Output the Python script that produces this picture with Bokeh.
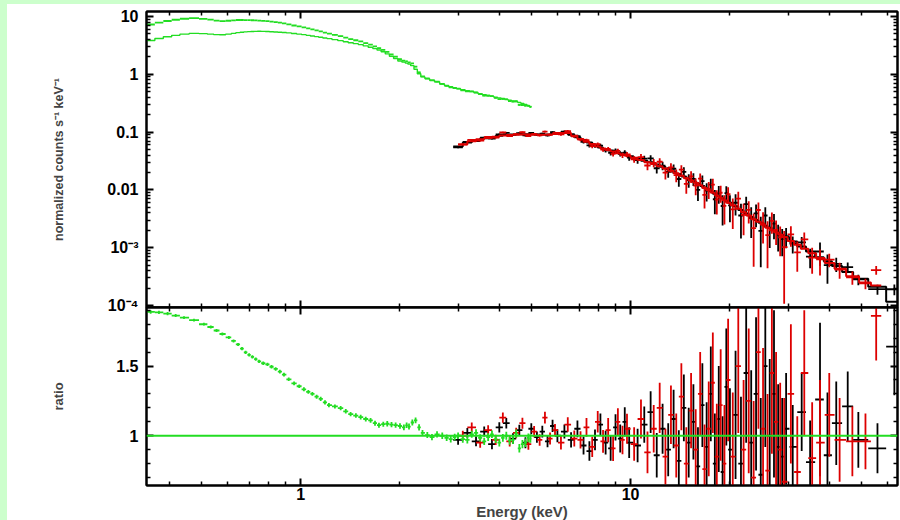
import numpy as np
from bokeh.plotting import figure
from bokeh.layouts import column, row
from bokeh.models import (Range1d, LinearAxis, FixedTicker,
                          CustomJSTickFormatter, Span, Spacer)
from bokeh.embed import file_html
from bokeh.resources import INLINE

# ---------------- ticks ----------------
x_major_ticks = [1, 10]
x_minor_ticks = [0.4, 0.5, 0.6, 0.7, 0.8, 0.9, 2, 3, 4, 5, 6, 7, 8, 9, 20, 30, 40, 50, 60]
top_major_ticks = [1e-4, 1e-3, 1e-2, 1e-1, 1, 10]
top_minor_ticks = [m * 10.0 ** d for d in range(-4, 2) for m in range(2, 10)]
ratio_major_ticks = [1.0, 1.5]
ratio_minor_ticks = [0.7, 0.8, 0.9, 1.1, 1.2, 1.3, 1.4, 1.6, 1.7, 1.8, 1.9]

# ---------------- soft (green) data ----------------
green_energy = [0.351, 0.372, 0.395, 0.418, 0.443, 0.475, 0.509, 0.534, 0.556, 0.579,
                0.606, 0.626, 0.646, 0.664, 0.681, 0.698, 0.714, 0.731, 0.748, 0.770,
                0.793, 0.816, 0.840, 0.865, 0.890, 0.920, 0.955, 0.990, 1.023, 1.055,
                1.085, 1.118, 1.150, 1.185, 1.218, 1.270, 1.322, 1.370, 1.417, 1.470,
                1.520, 1.575, 1.629, 1.680, 1.727, 1.780, 1.830, 1.885, 1.940, 2.000,
                2.055, 2.095, 2.130, 2.180, 2.230, 2.285, 2.340, 2.420, 2.500, 2.590,
                2.686, 2.770, 2.850, 2.930, 3.0, 3.1, 3.2, 3.3, 3.4, 3.5,
                3.6, 3.7, 3.8, 3.9, 4.0, 4.1, 4.2, 4.3, 4.4, 4.5,
                4.6, 4.7, 4.8, 4.9, 4.97]
green_model = [3.85, 4.15, 4.45, 4.72, 4.95, 5.1, 5.05, 4.95, 4.85, 4.82,
               4.95, 5.1, 5.25, 5.35, 5.42, 5.47, 5.5, 5.53, 5.55, 5.53,
               5.5, 5.45, 5.4, 5.35, 5.28, 5.2, 5.08, 4.96, 4.85, 4.72,
               4.6, 4.48, 4.36, 4.25, 4.14, 3.98, 3.82, 3.66, 3.52, 3.39,
               3.26, 3.1, 2.93, 2.78, 2.63, 2.45, 2.25, 2.05, 1.88, 1.70,
               1.62, 1.56, 1.5, 1.41, 1.22, 1.02, 0.9, 0.84, 0.79, 0.74,
               0.68, 0.64, 0.61, 0.585, 0.565, 0.54, 0.52, 0.50, 0.478, 0.46,
               0.445, 0.43, 0.415, 0.402, 0.39, 0.38, 0.368, 0.357, 0.347, 0.336,
               0.325, 0.313, 0.301, 0.289, 0.278]
green_ratio = [1.888, 1.885, 1.876, 1.862, 1.848, 1.83, 1.80, 1.78, 1.755, 1.73,
               1.705, 1.68, 1.655, 1.625, 1.598, 1.58, 1.566, 1.55, 1.533, 1.52,
               1.512, 1.495, 1.479, 1.46, 1.438, 1.405, 1.376, 1.355, 1.333, 1.315,
               1.30, 1.28, 1.264, 1.24, 1.219, 1.21, 1.198, 1.175, 1.155, 1.145,
               1.134, 1.12, 1.11, 1.09, 1.076, 1.083, 1.086, 1.08, 1.076, 1.07,
               1.06, 1.075, 1.066, 1.095, 1.11, 1.06, 1.02, 1.005, 0.99, 1.01,
               1.0, 0.985, 0.976, 0.99, 1.0, 0.975, 0.97, 1.01, 1.02, 0.985,
               0.96, 0.99, 1.01, 0.975, 0.95, 0.985, 1.0, 0.965, 0.97, 1.015,
               0.91, 0.94, 0.95, 0.985, 0.98]
green_err = [0.012, 0.011, 0.011, 0.011, 0.010, 0.010, 0.010, 0.011, 0.011, 0.011,
             0.011, 0.011, 0.011, 0.012, 0.012, 0.012, 0.012, 0.012, 0.012, 0.012,
             0.012, 0.012, 0.013, 0.013, 0.013, 0.013, 0.013, 0.013, 0.014, 0.014,
             0.014, 0.014, 0.015, 0.015, 0.015, 0.015, 0.016, 0.016, 0.016, 0.016,
             0.017, 0.017, 0.017, 0.018, 0.018, 0.018, 0.019, 0.019, 0.019, 0.020,
             0.020, 0.020, 0.021, 0.021, 0.021, 0.022, 0.022, 0.022, 0.022, 0.023,
             0.023, 0.023, 0.024, 0.024, 0.024, 0.025, 0.025, 0.025, 0.026, 0.026,
             0.026, 0.027, 0.027, 0.027, 0.028, 0.028, 0.028, 0.029, 0.029, 0.029,
             0.030, 0.030, 0.030, 0.031, 0.031]

# ---------------- hard (black) data ----------------
black_energy = [3.0, 3.2, 3.4, 3.6, 3.8, 4.0, 4.2, 4.4, 4.6, 4.8, 5.0, 5.2, 5.4, 5.6, 5.8,
                6.0, 6.3, 6.6, 6.9, 7.2, 7.5, 7.8, 8.1, 8.4, 8.7, 9.0, 9.3, 9.6, 9.9,
                10.5, 11.0, 11.5, 12.0, 12.5, 13.0, 13.5, 14.0, 14.5, 15.0, 15.5, 16.0,
                16.5, 17.0, 17.5, 18.0, 18.5, 19.0, 19.5, 20.0,
                20.8, 21.6, 22.4, 23.2, 24.0, 24.8, 25.6, 26.4, 27.2, 28.0, 28.8, 29.6,
                31.0, 33.0, 35.0, 37.5, 39.5, 42.0, 45.5, 49.0, 56.0, 63.0]
black_model = [0.056, 0.066, 0.073, 0.078, 0.082, 0.086, 0.089, 0.091, 0.092, 0.092,
               0.092, 0.091, 0.091, 0.091, 0.093,
               0.095, 0.099, 0.092, 0.081, 0.073, 0.066, 0.060, 0.054, 0.051, 0.048,
               0.045, 0.043, 0.040, 0.038,
               0.035, 0.032, 0.030, 0.0275, 0.025, 0.0228, 0.0207, 0.0188, 0.017, 0.0155,
               0.0141, 0.0128, 0.0116, 0.0105, 0.0095, 0.0086, 0.0078, 0.0071, 0.0065, 0.0060,
               0.0052, 0.0045, 0.0039, 0.0034, 0.0030, 0.0027, 0.0024, 0.0022, 0.0020,
               0.00182, 0.00165, 0.0015,
               0.00128, 0.00105, 0.00086, 0.00068, 0.00058, 0.00048, 0.00038, 0.00029,
               0.00021, 0.000116]
black_ratio = [0.97, 1.02, 0.96, 1.03, 0.94, 1.06, 1.09, 0.98, 1.04, 0.95, 1.05, 0.99, 1.03, 0.96, 1.07,
               1.00, 1.03, 0.97, 1.05, 0.93, 0.89, 0.97, 1.08, 0.95, 0.91, 1.06, 0.98, 1.10, 0.95,
               0.93, 1.08, 1.17, 0.86, 1.05, 0.90, 1.12, 0.82, 1.20, 0.95, 1.10, 0.78,
               1.22, 0.92, 1.30, 0.80, 1.12, 0.74, 1.35, 0.90,
               1.15, 0.80, 1.45, 0.95, 1.30, 0.72, 1.50, 1.00, 1.30, 0.92, 0.85, 1.05,
               0.92, 1.17, 0.81, 1.26, 0.86, 1.09, 1.21, 0.97, 0.91, 1.64]
black_err = [0.035, 0.035, 0.036, 0.036, 0.037, 0.037, 0.038, 0.038, 0.039, 0.040,
             0.040, 0.041, 0.042, 0.043, 0.044,
             0.046, 0.050, 0.055, 0.060, 0.065, 0.070, 0.075, 0.080, 0.085, 0.090,
             0.095, 0.100, 0.105, 0.110,
             0.12, 0.13, 0.15, 0.16, 0.18, 0.19, 0.21, 0.22, 0.24, 0.25, 0.27, 0.28,
             0.30, 0.32, 0.34, 0.36, 0.38, 0.40, 0.42, 0.44,
             0.46, 0.48, 0.50, 0.52, 0.55, 0.55, 0.58, 0.55, 0.60, 0.45, 0.42, 0.40,
             0.30, 0.28, 0.30, 0.55, 0.45, 0.30, 0.25, 0.20, 0.18, 0.35]

# ---------------- hard (red) data ----------------
red_energy = [3.1, 3.3, 3.5, 3.7, 3.9, 4.1, 4.3, 4.5, 4.7, 4.9, 5.1, 5.3, 5.5, 5.7, 5.9,
              6.15, 6.45, 6.75, 7.05, 7.35, 7.65, 7.95, 8.25, 8.55, 8.85, 9.15, 9.45, 9.75,
              10.25, 10.75, 11.25, 11.75, 12.25, 12.75, 13.25, 13.75, 14.25, 14.75,
              15.25, 15.75, 16.25, 16.75, 17.25, 17.75, 18.25, 18.75, 19.25, 19.75,
              20.4, 21.2, 22.0, 22.8, 23.6, 24.4, 25.2, 26.0, 26.8, 27.6, 28.4, 29.2,
              30.6, 32.0, 33.6, 35.5, 37.5, 40.0, 43.0, 47.0, 51.5, 55.5]
red_model = [0.061, 0.069, 0.075, 0.079, 0.083, 0.087, 0.089, 0.090, 0.091, 0.091,
             0.090, 0.090, 0.090, 0.091, 0.093,
             0.096, 0.096, 0.086, 0.076, 0.068, 0.062, 0.056, 0.052, 0.049, 0.046,
             0.043, 0.041, 0.039,
             0.036, 0.033, 0.030, 0.028, 0.0255, 0.0233, 0.0213, 0.0193, 0.0175, 0.0159,
             0.0145, 0.0132, 0.0120, 0.0108, 0.0098, 0.0089, 0.0080, 0.0073, 0.0066, 0.0060,
             0.0054, 0.0047, 0.0041, 0.0036, 0.0031, 0.0028, 0.0025, 0.0022, 0.0020,
             0.00185, 0.00168, 0.00152,
             0.00130, 0.00112, 0.00096, 0.00080, 0.00066, 0.00054, 0.00043, 0.00032,
             0.00025, 0.00022]
red_ratio = [1.00, 1.06, 0.95, 1.04, 0.97, 1.13, 0.96, 1.02, 1.09, 0.94, 1.03, 0.97, 1.13, 0.98, 1.04,
             0.95, 1.08, 0.98, 0.97, 1.06, 0.92, 1.10, 0.96, 1.04, 0.91, 1.10, 0.97, 1.05,
             0.94, 1.12, 0.88, 1.05, 1.20, 0.85, 1.15, 0.93, 1.28, 0.80,
             1.18, 0.90, 1.30, 0.76, 1.05, 1.38, 0.85, 1.22, 0.80, 1.40,
             0.85, 1.50, 0.90, 1.25, 0.70, 1.60, 1.05, 0.75, 1.45, 1.10, 0.90, 0.67,
             1.30, 0.74, 1.45, 0.84, 0.95, 1.15, 0.97, 0.96, 0.96, 1.86]
red_err = [0.035, 0.035, 0.036, 0.036, 0.037, 0.037, 0.038, 0.038, 0.039, 0.040,
           0.040, 0.041, 0.042, 0.043, 0.044,
           0.048, 0.052, 0.057, 0.062, 0.067, 0.072, 0.077, 0.082, 0.087, 0.092,
           0.097, 0.102, 0.108,
           0.12, 0.14, 0.15, 0.17, 0.18, 0.20, 0.21, 0.23, 0.24, 0.26,
           0.27, 0.29, 0.30, 0.32, 0.34, 0.36, 0.38, 0.40, 0.42, 0.44,
           0.46, 0.48, 0.50, 0.52, 0.55, 0.55, 0.58, 0.55, 0.58, 0.50, 0.48, 0.60,
           0.50, 0.40, 0.45, 0.40, 0.45, 0.30, 0.30, 0.25, 0.20, 0.32]

GREEN = "#22dd22"
RED = "#dd0000"
BLACK = "#000000"
FONT = "Liberation Sans"


def bin_edges(E):
    E = np.asarray(E, float)
    mids = (E[1:] + E[:-1]) / 2.0
    lo = np.concatenate([[E[0] - (mids[0] - E[0])], mids])
    hi = np.concatenate([mids, [E[-1] + (E[-1] - mids[-1])]])
    return lo, hi


def draw_cross(p, E, y, ylo, yhi, color, width):
    lo, hi = bin_edges(E)
    p.segment(x0=lo, y0=y, x1=hi, y1=y, line_color=color, line_width=width)
    p.segment(x0=np.asarray(E, float), y0=ylo, x1=np.asarray(E, float), y1=yhi,
              line_color=color, line_width=width)


def draw_step(p, E, v, color, width):
    lo, hi = bin_edges(E)
    xs = np.column_stack([lo, hi]).ravel()
    ys = np.repeat(np.asarray(v, float), 2)
    p.line(xs, ys, line_color=color, line_width=width)


EMPTY = "return '';"


def style_axis(ax, labels):
    ax.axis_line_width = 2
    ax.axis_line_color = "black"
    ax.major_tick_in = 7
    ax.major_tick_out = 0
    ax.minor_tick_in = 4
    ax.minor_tick_out = 0
    ax.major_tick_line_width = 2
    ax.minor_tick_line_width = 1.5
    ax.major_tick_line_color = "black"
    ax.minor_tick_line_color = "black"
    if labels:
        ax.major_label_text_font = FONT
        ax.major_label_text_font_size = "16px"
        ax.major_label_text_font_style = "bold"
        ax.major_label_text_color = "black"
    else:
        ax.formatter = CustomJSTickFormatter(code=EMPTY)
        ax.major_label_text_font_size = "1px"
        ax.major_label_text_alpha = 0
        ax.major_label_standoff = 0
        ax.axis_label_standoff = 0


def x_ticker():
    return FixedTicker(ticks=x_major_ticks, minor_ticks=x_minor_ticks)


def top_ticker():
    return FixedTicker(ticks=top_major_ticks, minor_ticks=top_minor_ticks)


def ratio_ticker():
    return FixedTicker(ticks=ratio_major_ticks, minor_ticks=ratio_minor_ticks)


x_range = Range1d(0.341, 64.4)

# ---------------- top panel ----------------
p1 = figure(width=893, height=315, x_axis_type="log", y_axis_type="log",
            x_range=x_range, y_range=Range1d(9.2e-5, 12.2),
            output_backend="svg", toolbar_location=None,
            min_border_left=139, min_border_right=3, min_border_top=7, min_border_bottom=12,
            background_fill_color="white", border_fill_color="white",
            outline_line_color="black", outline_line_width=2)
p1.xgrid.visible = False
p1.ygrid.visible = False

ax = p1.below[0]
ax.ticker = x_ticker()
style_axis(ax, False)

ay = p1.left[0]
ay.ticker = top_ticker()
style_axis(ay, True)
ay.formatter = CustomJSTickFormatter(code="""
const k = Math.round(Math.log10(tick));
const m = {"1": "10", "0": "1", "-1": "0.1", "-2": "0.01", "-3": "10\u207b\u00b3", "-4": "10\u207b\u2074"};
const s = m[String(k)];
return s === undefined ? "" : s;
""")
ay.major_label_standoff = 8
ay.axis_label = "normalized counts s\u207b\u00b9 keV\u207b\u00b9"
ay.axis_label_text_font = FONT
ay.axis_label_text_font_size = "12.5px"
ay.axis_label_text_font_style = "bold"
ay.axis_label_standoff = 38

top_ax = LinearAxis(ticker=x_ticker())
style_axis(top_ax, False)
p1.add_layout(top_ax, "above")
right_ay = LinearAxis(ticker=top_ticker())
style_axis(right_ay, False)
p1.add_layout(right_ay, "right")

g_lo = np.asarray(green_model) * np.asarray(green_ratio)
g_err = np.asarray(green_model) * np.asarray(green_err)
b_val = np.asarray(black_model) * np.asarray(black_ratio)
b_e = np.asarray(black_model) * np.asarray(black_err)
r_val = np.asarray(red_model) * np.asarray(red_ratio)
r_e = np.asarray(red_model) * np.asarray(red_err)

draw_cross(p1, black_energy, b_val, b_val - b_e, b_val + b_e, BLACK, 1.8)
draw_step(p1, black_energy, black_model, BLACK, 2)
draw_cross(p1, red_energy, r_val, r_val - r_e, r_val + r_e, RED, 1.8)
draw_step(p1, red_energy, red_model, RED, 2)
draw_cross(p1, green_energy, g_lo, g_lo - g_err, g_lo + g_err, GREEN, 1.8)
draw_step(p1, green_energy, green_model, GREEN, 1.4)

# ---------------- ratio panel ----------------
p2 = figure(width=893, height=219, x_axis_type="log",
            x_range=x_range, y_range=Range1d(0.643, 1.92),
            output_backend="svg", toolbar_location=None,
            min_border_left=139, min_border_right=3, min_border_top=4, min_border_bottom=34,
            background_fill_color="white", border_fill_color="white", border_fill_alpha=0,
            outline_line_color="black", outline_line_width=2)
p2.margin = (-16, 0, 0, 0)
p2.xgrid.visible = False
p2.ygrid.visible = False

bx = p2.below[0]
bx.ticker = x_ticker()
style_axis(bx, True)
bx.formatter = CustomJSTickFormatter(code="return String(Math.round(tick));")
bx.major_label_standoff = 2
bx.axis_label = "Energy (keV)"
bx.axis_label_text_font = FONT
bx.axis_label_text_font_size = "15px"
bx.axis_label_text_font_style = "bold"
bx.axis_label_standoff = 0

by = p2.left[0]
by.ticker = ratio_ticker()
style_axis(by, True)
by.formatter = CustomJSTickFormatter(code="return Math.abs(tick - 1) < 1e-9 ? '1' : tick.toFixed(1);")
by.major_label_standoff = 8
by.axis_label = "ratio"
by.axis_label_text_font = FONT
by.axis_label_text_font_size = "13px"
by.axis_label_text_font_style = "bold"
by.axis_label_standoff = 47

top_bx = LinearAxis(ticker=x_ticker())
style_axis(top_bx, False)
p2.add_layout(top_bx, "above")
right_by = LinearAxis(ticker=ratio_ticker())
style_axis(right_by, False)
p2.add_layout(right_by, "right")

rb = np.asarray(black_ratio)
eb = np.asarray(black_err)
rr = np.asarray(red_ratio)
er = np.asarray(red_err)
rg = np.asarray(green_ratio)
eg = np.asarray(green_err)
draw_cross(p2, black_energy, rb, rb - eb, rb + eb, BLACK, 1.8)
draw_cross(p2, red_energy, rr, rr - er, rr + er, RED, 1.8)
draw_cross(p2, green_energy, rg, rg - eg, rg + eg, GREEN, 1.8)
p2.add_layout(Span(location=1.0, dimension="width", line_color=GREEN, line_width=2))

# ---------------- page layout ----------------
left_strip = Spacer(width=7, height=520, styles={"background-color": "#ccffcc"})
top_strip = Spacer(width=893, height=4, styles={"background-color": "#ccffcc"})
layout = row(left_strip, column(top_strip, p1, p2, spacing=0), spacing=0)

open("out.html", "w", encoding="utf-8").write(file_html(layout, INLINE))
